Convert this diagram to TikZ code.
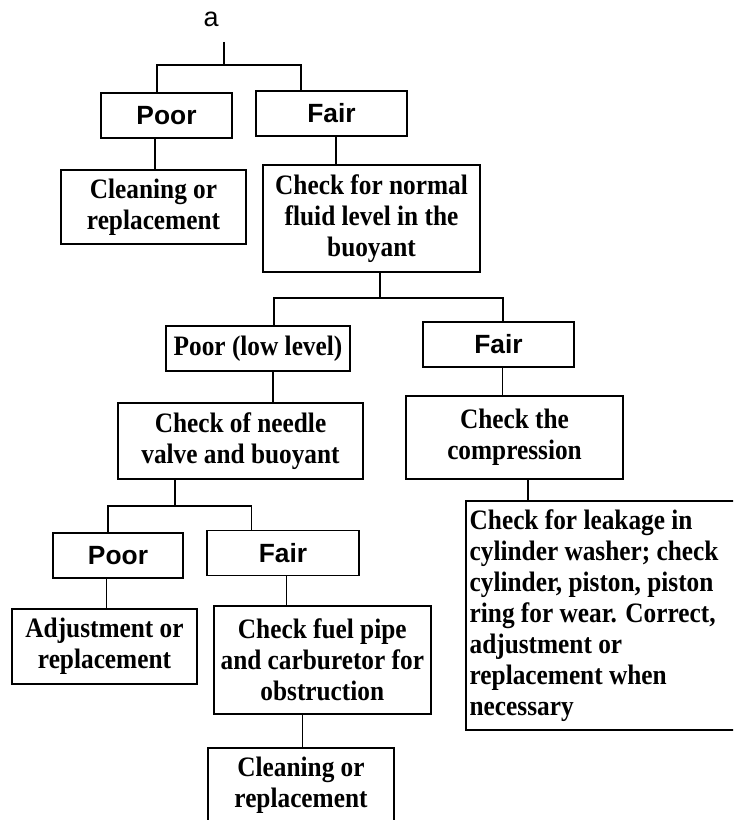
\documentclass[tikz,border=0pt]{standalone}
\usepackage{fontspec}
\setmainfont{Liberation Serif}[FakeStretch=0.9]
\setsansfont{Liberation Sans}

\begin{document}
\begin{tikzpicture}[x=0.03cm, y=-0.03cm]
\tikzstyle{every node} = [inner sep=0, outer sep=0]
\tikzstyle{box} = [draw, line width=1.6pt, align=center, font=\fontsize{24}{26.5}\selectfont\bfseries]
\tikzstyle{tag} = [box, minimum height=1.35cm, font=\fontsize{22.5}{26}\selectfont\sffamily\bfseries]
\tikzstyle{edge} = [draw, line width=1.4pt]
\useasboundingbox (0,0) rectangle (733,820);
\clip (0,0) rectangle (733,820);
% top
\node[font=\fontsize{23}{26}\selectfont\sffamily] (a) at (211,19) {a};
\coordinate (a_tip) at (224,42);
\coordinate (j1) at (224,65);
\node[tag, minimum width=3.93cm] (poor1) at (166.5,115.5) {Poor};
\node[tag, minimum width=4.53cm] (fair1) at (331.5,113.5) {Fair};
\node[box, minimum width=5.55cm, minimum height=2.22cm] (clean1) at (153.5,207) {Cleaning or\\replacement};
\node[box, minimum width=6.51cm, minimum height=3.21cm] (check1) at (371.5,218.5) {Check for normal\\fluid level in the\\buoyant};
% middle
\coordinate (j2) at (380,298);
\node[box, minimum width=5.52cm, minimum height=1.35cm] (poor2) at (258,348.5) {Poor (low level)};
\node[tag, minimum width=4.53cm] (fair2) at (498.5,344.5) {Fair};
\node[box, minimum width=7.35cm, minimum height=2.28cm] (needle) at (240.5,441) {Check of needle\\valve and buoyant};
\node[box, minimum width=6.51cm, minimum height=2.49cm] (compr) at (514.5,437.5) {Check the\\compression};
\node[box, anchor=north west, minimum width=8.82cm, minimum height=6.87cm, text width=8.6cm, inner xsep=0.06cm, align=flush left] (leak) at (466,501) {Check for leakage in\\cylinder washer; check\\cylinder, piston, piston\\ring for wear. Correct,\\adjustment or\\replacement when\\necessary};
% bottom
\coordinate (j3) at (175,506);
\node[tag, minimum width=3.9cm] (poor3) at (118,555.5) {Poor};
\node[tag, minimum width=4.56cm] (fair3) at (283,553) {Fair};
\node[box, minimum width=5.55cm, minimum height=2.25cm] (adjust) at (104.5,646.5) {Adjustment or\\replacement};
\node[box, minimum width=6.51cm, minimum height=3.24cm] (fuel) at (322.3,660) {Check fuel pipe\\and carburetor for\\obstruction};
\node[box, minimum width=5.58cm, minimum height=2.22cm] (clean2) at (301,785) {Cleaning or\\replacement};
% connectors
\draw[edge] (a_tip) -- (j1);
\draw[edge] (157,0 |- poor1.north) |- (j1) -| (301,0 |- fair1.north);
\draw[edge] (155,0 |- poor1.south) -- (155,0 |- clean1.north);
\draw[edge] (336,0 |- fair1.south) -- (336,0 |- check1.north);
\draw[edge] (check1.south -| j2) -- (j2);
\draw[edge] (274,0 |- poor2.north) |- (j2) -| (503,0 |- fair2.north);
\draw[edge] (273,0 |- poor2.south) -- (273,0 |- needle.north);
\draw[edge] (502.6,0 |- fair2.south) -- (502.6,0 |- compr.north);
\draw[edge] (528,0 |- compr.south) -- (528,0 |- leak.north);
\draw[edge] (needle.south -| j3) -- (j3);
\draw[edge] (108,0 |- poor3.north) |- (j3) -| (251.5,0 |- fair3.north);
\draw[edge] (106.6,0 |- poor3.south) -- (106.6,0 |- adjust.north);
\draw[edge] (286.6,0 |- fair3.south) -- (286.6,0 |- fuel.north);
\draw[edge] (302.5,0 |- fuel.south) -- (302.5,0 |- clean2.north);
\end{tikzpicture}
\end{document}
